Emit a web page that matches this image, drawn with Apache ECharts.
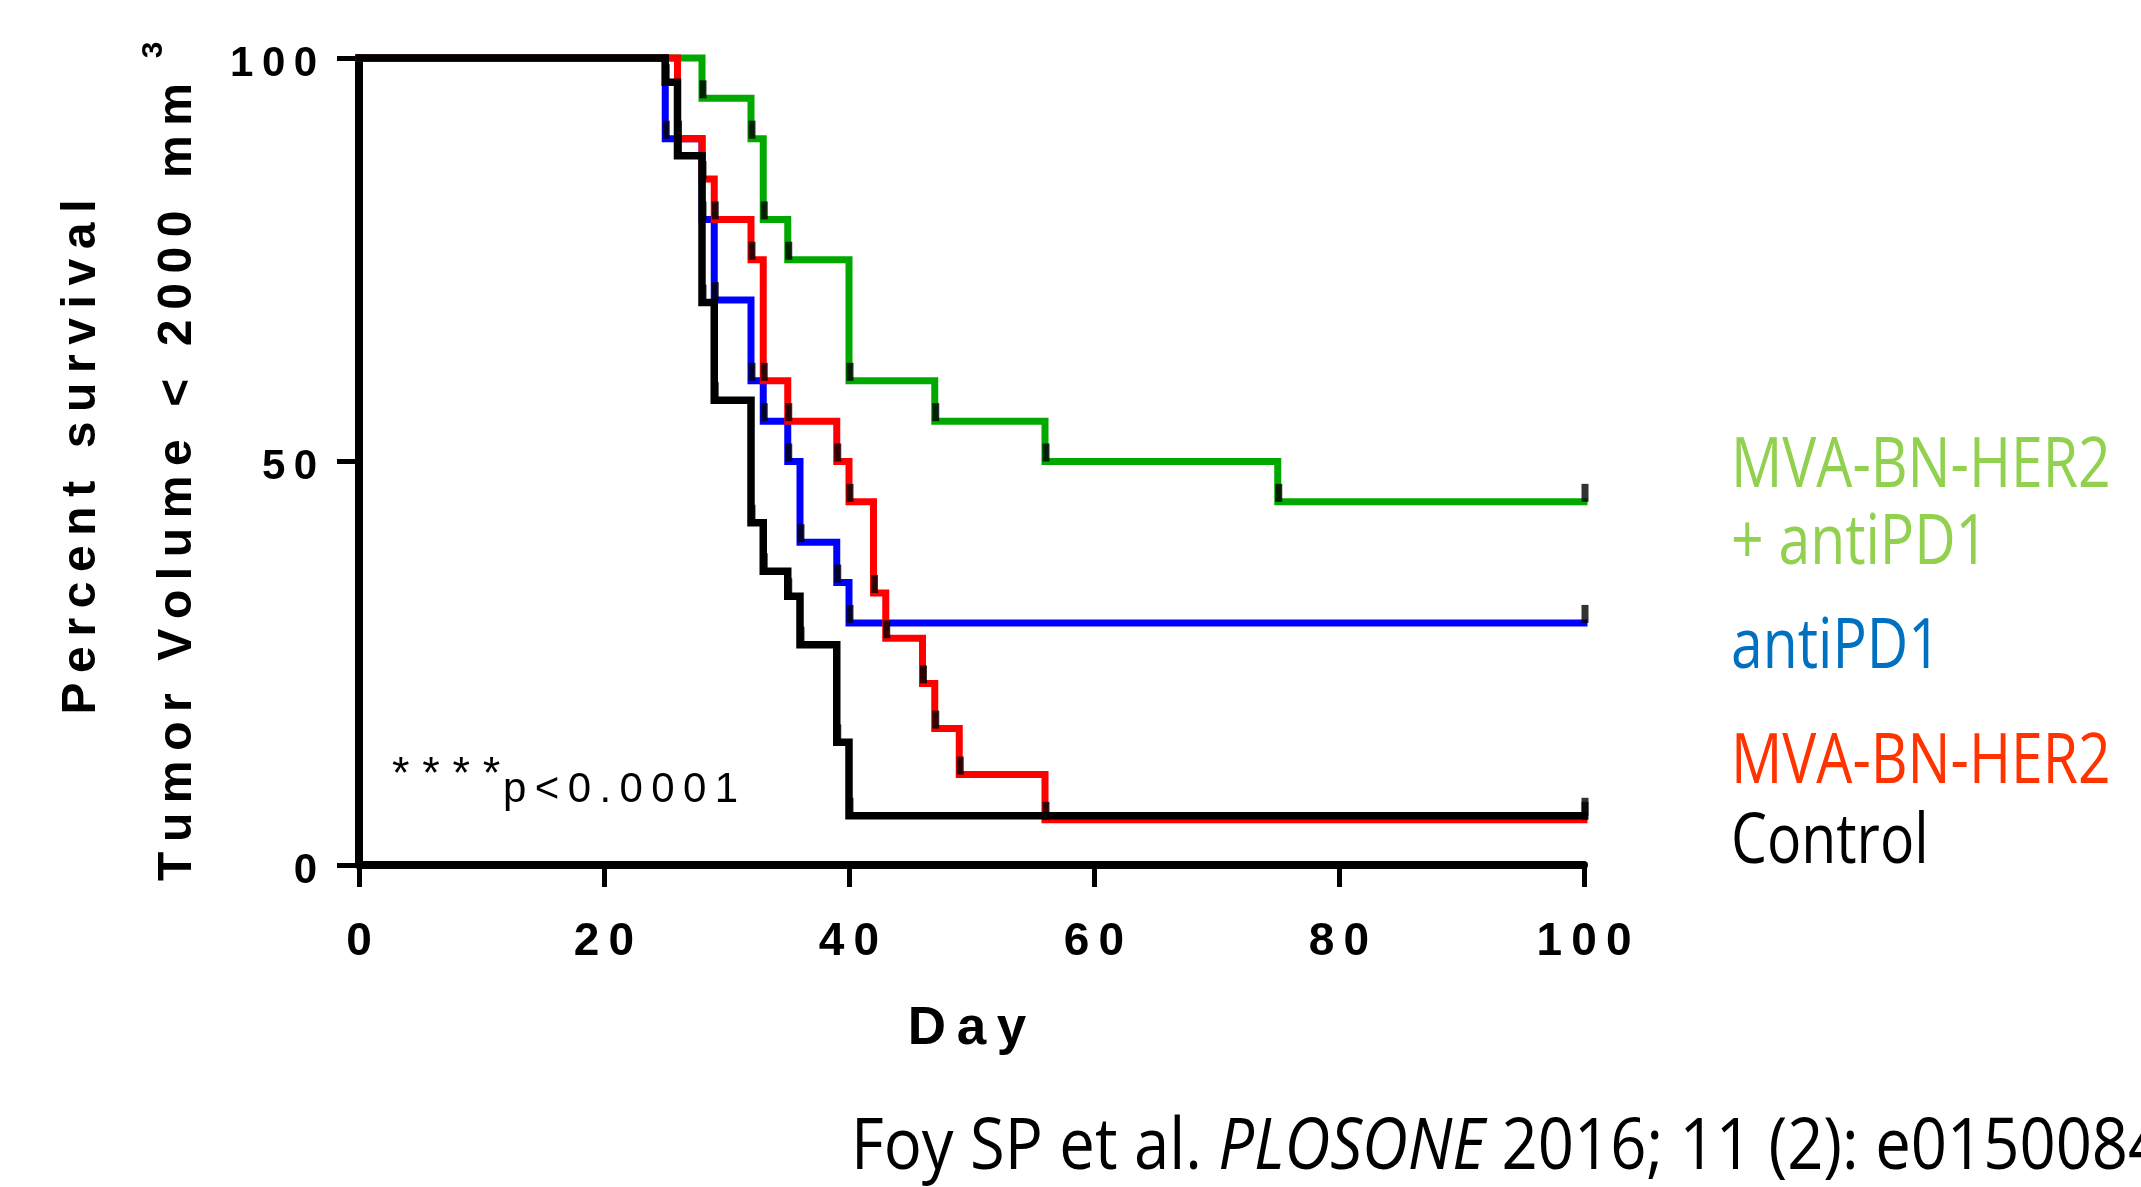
<!DOCTYPE html>
<html><head><meta charset="utf-8">
<script src="https://cdn.jsdelivr.net/npm/echarts@6/dist/echarts.min.js"></script>
<style>html,body{margin:0;padding:0;background:#fff}#c{width:2141px;height:1187px}</style>
</head><body><div id="c"></div>
<script>
// ---- data ----
const comboDays = [0, 28, 32, 33, 35, 40, 47, 56, 75, 100];
const comboSurv = [100, 95, 90, 80, 75, 60, 55, 50, 45, 45];
const antiDays  = [0, 25, 28, 29, 32, 33, 35, 36, 39, 40, 100];
const antiSurv  = [100, 90, 80, 70, 60, 55, 50, 40, 35, 30, 30];
const mvaDays   = [0, 26, 28, 29, 32, 33, 35, 39, 40, 42, 43, 46, 47, 49, 56, 100];
const mvaSurv   = [100, 90, 85, 80, 75, 60, 55, 50, 45, 33.7, 28.1, 22.5, 16.9, 11.2, 5.6, 5.6];
const ctrlDays  = [0, 25, 26, 28, 29, 32, 33, 35, 36, 39, 40, 100];
const ctrlSurv  = [100, 97, 87.9, 69.7, 57.6, 42.4, 36.4, 33.3, 27.3, 15.2, 6.1, 6.1];
const groupNames = ['MVA-BN-HER2 + antiPD1', 'antiPD1', 'MVA-BN-HER2', 'Control'];
const xTitle = 'Day';
const yTitle1 = 'Percent survival';
const yTitle2 = 'Tumor Volume < 2000 mm';
const pText = 'p<0.0001';
const citeA = 'Foy SP et al. ', citeB = 'PLOSONE', citeC = ' 2016; 11 (2): e0150084';

// ---- styling ----
const lineColors = ['#00A800', '#0000FF', '#FF0000', '#000000'];
const labelColors = ['#92D050', '#0070C0', '#FF3300', '#000000'];
const groups = [[comboDays, comboSurv], [antiDays, antiSurv], [mvaDays, mvaSurv], [ctrlDays, ctrlSurv]];
const spaced = (s, sep) => String(s).split('').join(sep);
const TS = '\u2009';

const chart = echarts.init(document.getElementById('c'), null, {renderer: 'canvas'});
const series = [];
groups.forEach((g, i) => {
  const pts = g[0].map((d, k) => [d, g[1][k]]);
  series.push({
    type: 'line', name: groupNames[i], step: 'end', data: pts, symbol: 'none',
    clip: false, z: 2 + i, silent: true,
    lineStyle: {color: lineColors[i], width: i === 3 ? 7.5 : 7, cap: 'square', join: 'miter'}
  });
});
groups.forEach((g, i) => {
  const pts = g[0].map((d, k) => [d, g[1][k]]).slice(1);
  series.push({
    type: 'scatter', data: pts, symbol: 'rect', symbolSize: [7, 18], symbolOffset: [1, -9],
    itemStyle: {color: '#000'}, z: 10, clip: false, silent: true
  });
});

const legendY = [466, 543, 647, 762, 842];
const legendLines = [groupNames[0].split(' + ')[0], '+ ' + groupNames[0].split(' + ')[1], groupNames[1], groupNames[2], groupNames[3]];
const legendCol = [labelColors[0], labelColors[0], labelColors[1], labelColors[2], labelColors[3]];
const graphics = [];
legendLines.forEach((t, i) => {
  graphics.push({type: 'text', x: 1731, y: legendY[i] + 1, scaleX: 0.815, silent: true,
    style: {text: t, fontSize: 70, fontFamily: 'Open Sans', fill: legendCol[i], textVerticalAlign: 'middle', verticalAlign: 'middle'}});
});
graphics.push({type: 'text', x: 851, y: 1148, scaleX: 0.88, silent: true,
  style: {text: '{n|' + citeA + '}{i|' + citeB + '}{n|' + citeC + '}', fontSize: 72, fontFamily: 'Open Sans', fill: '#000',
    textVerticalAlign: 'middle', verticalAlign: 'middle',
    rich: {n: {fontSize: 72, fontFamily: 'Open Sans', fill: '#000'}, i: {fontSize: 72, fontFamily: 'Open Sans', fontStyle: 'italic', fill: '#000'}}}});
graphics.push({type: 'text', x: 967, y: 1029, silent: true,
  style: {text: spaced(xTitle, TS), fontSize: 53, fontWeight: 'bold', fontFamily: 'Liberation Sans', fill: '#000',
    textAlign: 'center', align: 'center', textVerticalAlign: 'middle', verticalAlign: 'middle'}});
graphics.push({type: 'text', x: 82, y: 457, rotation: Math.PI / 2, silent: true,
  style: {text: spaced(yTitle1, TS), fontSize: 48, fontWeight: 'bold', fontFamily: 'Liberation Sans', fill: '#000',
    textAlign: 'center', align: 'center', textVerticalAlign: 'middle', verticalAlign: 'middle'}});
graphics.push({type: 'text', x: 178, y: 482, rotation: Math.PI / 2, silent: true,
  style: {text: spaced(yTitle2, TS), fontSize: 48, fontWeight: 'bold', fontFamily: 'Liberation Sans', fill: '#000',
    textAlign: 'center', align: 'center', textVerticalAlign: 'middle', verticalAlign: 'middle'}});
graphics.push({type: 'text', x: 154, y: 50, rotation: Math.PI / 2, silent: true,
  style: {text: '3', fontSize: 30, fontWeight: 'bold', fontFamily: 'Liberation Sans', fill: '#000',
    textAlign: 'center', align: 'center', textVerticalAlign: 'middle', verticalAlign: 'middle'}});
graphics.push({type: 'text', x: 392, y: 776, silent: true,
  style: {text: spaced('****', TS + '\u200A'), fontSize: 45, fontFamily: 'Liberation Sans', fill: '#000', textVerticalAlign: 'middle', verticalAlign: 'middle'}});
graphics.push({type: 'text', x: 503, y: 790, silent: true,
  style: {text: spaced(pText, TS), fontSize: 42, fontFamily: 'Liberation Sans', fill: '#000', textVerticalAlign: 'middle', verticalAlign: 'middle'}});

chart.setOption({
  animation: false,
  backgroundColor: '#fff',
  grid: {left: 359, right: 557, top: 58, bottom: 322, containLabel: false},
  xAxis: {
    type: 'value', min: 0, max: 100, interval: 20,
    axisLine: {show: true, onZero: false, lineStyle: {color: '#000', width: 8}},
    axisTick: {show: true, length: 22, lineStyle: {color: '#000', width: 5}},
    splitLine: {show: false},
    axisLabel: {margin: 54, fontSize: 46, fontWeight: 'bold', fontFamily: 'Liberation Sans', color: '#000',
      formatter: v => spaced(v, TS)}
  },
  yAxis: {
    type: 'value', min: 0, max: 100, interval: 50,
    axisLine: {show: true, onZero: false, lineStyle: {color: '#000', width: 8}},
    axisTick: {show: true, length: 22, lineStyle: {color: '#000', width: 5}},
    splitLine: {show: false},
    axisLabel: {margin: 42, color: '#000',
      formatter: v => '{a|' + spaced(v, TS) + '}',
      rich: {a: {fontSize: 42, fontWeight: 'bold', fontFamily: 'Liberation Sans', color: '#000', padding: [12, 0, 0, 0]}}}
  },
  series: series,
  graphic: graphics
});
</script></body></html>
